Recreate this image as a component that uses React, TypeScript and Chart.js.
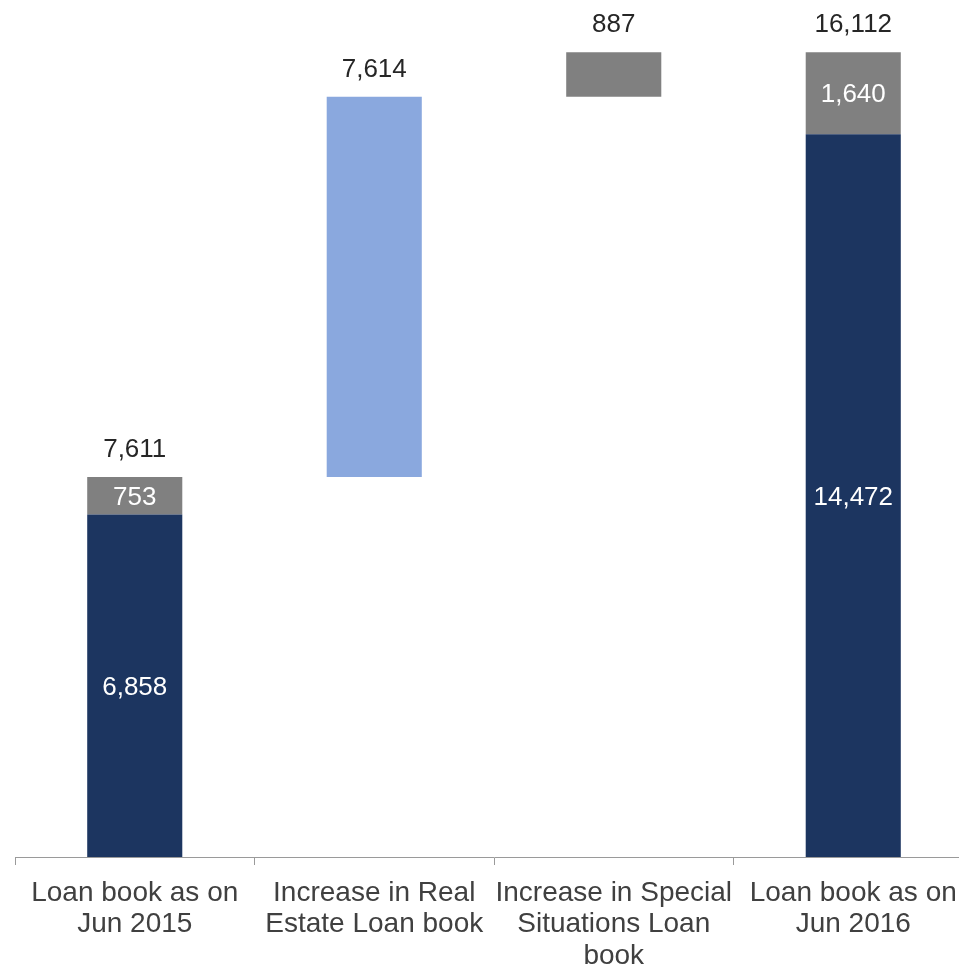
import React, { useEffect, useRef } from "react";
import { Chart, registerables } from "chart.js";

Chart.register(...registerables);

const categories: string[][] = [
  ["Loan book as on", "Jun 2015"],
  ["Increase in Real", "Estate Loan book"],
  ["Increase in Special", "Situations Loan", "book"],
  ["Loan book as on", "Jun 2016"],
];
const offsets = [0, 7611, 15225, 0];
const coreBook = [6858, 0, 0, 14472];
const realEstateIncrease = [0, 7614, 0, 0];
const specialSituations = [753, 0, 887, 1640];

const FONT = "'Liberation Sans', Arial, sans-serif";

const labelPlugin = {
  id: "wfLabels",
  afterDatasetsDraw(chart: any) {
    const ctx = chart.ctx;
    const n = categories.length;
    ctx.save();
    ctx.textAlign = "center";
    ctx.font = `26px ${FONT}`;
    for (let i = 0; i < n; i++) {
      let visible: { ds: number; v: number }[] = [];
      for (let d = 1; d < chart.data.datasets.length; d++) {
        const v = chart.data.datasets[d].data[i] as number;
        if (v > 0) visible.push({ ds: d, v });
      }
      let total = 0;
      let topY = Infinity;
      let x = 0;
      for (const s of visible) {
        total += s.v;
        const el = chart.getDatasetMeta(s.ds).data[i] as any;
        x = el.x;
        topY = Math.min(topY, el.y);
        if (visible.length > 1) {
          ctx.fillStyle = "#ffffff";
          ctx.textBaseline = "middle";
          ctx.fillText(s.v.toLocaleString("en-US"), el.x, (el.y + el.base) / 2 + 2);
        }
      }
      if (visible.length) {
        ctx.fillStyle = "#262626";
        ctx.textBaseline = "alphabetic";
        ctx.fillText(total.toLocaleString("en-US"), x, topY - 20);
      }
    }
    ctx.restore();
  },
};

export default function App() {
  const ref = useRef<HTMLCanvasElement>(null);
  useEffect(() => {
    if (!ref.current) return;
    const chart = new Chart(ref.current, {
      type: "bar",
      data: {
        labels: categories as any,
        datasets: [
          { label: "offset", data: offsets, backgroundColor: "rgba(0,0,0,0)" },
          { label: "core", data: coreBook, backgroundColor: "#1c3560" },
          { label: "re", data: realEstateIncrease, backgroundColor: "#8aa8de" },
          { label: "ss", data: specialSituations, backgroundColor: "#808080" },
        ],
      },
      options: {
        responsive: false,
        animation: false,
        devicePixelRatio: 1,
        datasets: { bar: { barPercentage: 0.397, categoryPercentage: 1 } },
        layout: { padding: { left: 15, right: 2, top: 8, bottom: 0 } },
        plugins: { legend: { display: false }, tooltip: { enabled: false } },
        scales: {
          x: {
            stacked: true,
            grid: { drawOnChartArea: false, color: "#9a9a9a", tickLength: 8, offset: true },
            border: { display: true, color: "#9a9a9a", width: 1 },
            ticks: {
              color: "#404040",
              font: { family: FONT, size: 28, lineHeight: 1.13 },
              padding: 12,
              maxRotation: 0,
              autoSkip: false,
            },
            afterFit(scale: any) {
              scale.height = 108;
            },
          },
          y: { stacked: true, display: false, min: 0, max: 17000 },
        },
      },
      plugins: [labelPlugin],
    });
    return () => chart.destroy();
  }, []);
  return (
    <div style={{ position: "fixed", left: 0, top: 0, width: 959, height: 965, overflow: "hidden", background: "#fff" }}>
      <canvas ref={ref} width={975} height={965} style={{ display: "block" }} />
    </div>
  );
}
